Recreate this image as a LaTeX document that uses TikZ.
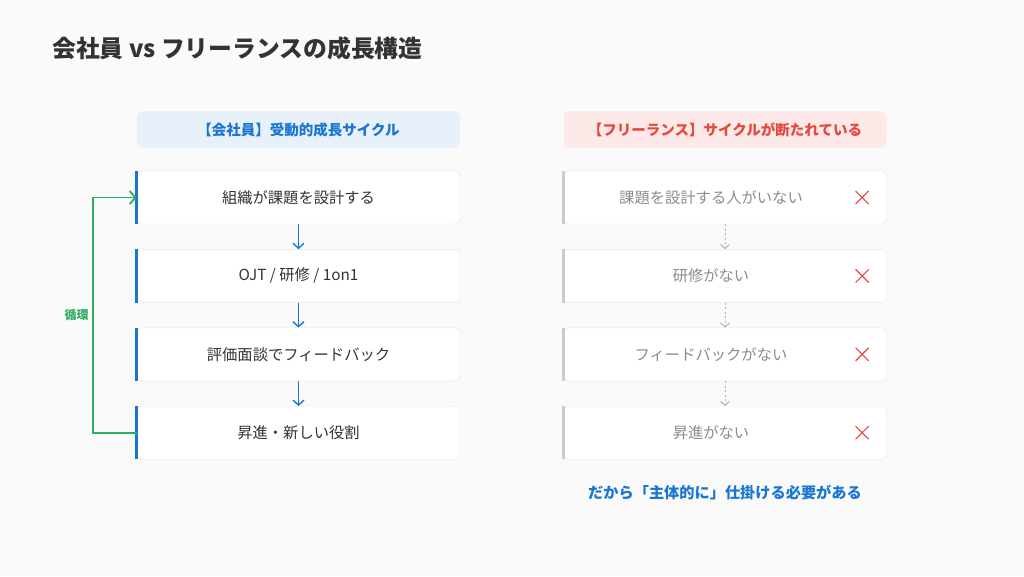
\documentclass[tikz,border=0pt]{standalone}
\usepackage{fontspec}
\setmainfont{Noto Sans CJK JP}
\usetikzlibrary{positioning,shapes.misc,arrows.meta}
\definecolor{bgc}{HTML}{FAFAFA}
\definecolor{kblue}{HTML}{1976D2}
\definecolor{kgreen}{HTML}{2EAE62}
\definecolor{fred}{HTML}{E5483D}
\definecolor{darkt}{HTML}{333333}
\definecolor{grayt}{HTML}{8C8C8C}
\definecolor{lineg}{HTML}{E6E6E6}
\newcommand{\pxfont}[1]{\fontsize{#1}{#1}\selectfont}
\tikzset{kbox/.style={rectangle,draw=lineg,fill=white,rounded corners=5pt,minimum width=323pt,minimum height=53pt,text=darkt,font=\pxfont{15.3pt}},
	 fbox/.style={kbox,text=grayt},
	 khead/.style={rectangle,fill=kblue!10,rounded corners=6pt,minimum width=323pt,minimum height=37pt,text=kblue,font=\pxfont{14.5pt}\bfseries},
	 fhead/.style={khead,fill=fred!12,text=fred},
	 kbar/.style={draw=kblue,line width=3pt},
	 fbar/.style={draw=black!20,line width=3pt},
	 karrow/.style={-{Straight Barb[length=5pt,width=11pt]},draw=kblue,line width=1.4pt},
	 farrow/.style={-{Straight Barb[length=4pt,width=9pt]},draw=black!30,line width=1pt,dash pattern=on 2pt off 2.5pt},
	 xmark/.style={cross out,draw=fred,line width=1.1pt,minimum size=12pt,inner sep=0pt},
	 node distance = 25pt
	 }

\begin{document}
\begin{tikzpicture}[x=1pt,y=-1pt]
	\fill[bgc] (0,0) rectangle (1024,576);
	\useasboundingbox (0,0) rectangle (1024,576);
	\node[anchor=west,text=darkt,font=\pxfont{23.8pt}\bfseries,inner sep=0pt] (ttl) at (52,48) {会社員 vs フリーランスの成長構造};
	% left column
	\node[khead] (h1) at (298.5,129.5) {【会社員】受動的成長サイクル};
	\node[kbox] (c1) at (298.5,197.5) {組織が課題を設計する};
	\node[kbox] (c2) [below= of c1] {OJT / 研修 / 1on1};
	\node[kbox] (c3) [below= of c2] {評価面談でフィードバック};
	\node[kbox] (c4) [below= of c3] {昇進・新しい役割};
	\foreach \n in {c1,c2,c3,c4} \draw[kbar] (\n.north west) -- (\n.south west);
	\foreach \a/\b in {c1/c2,c2/c3,c3/c4} \draw[karrow] (\a) -- (\b);
	\draw[-{Straight Barb[length=6pt,width=13pt]},draw=kgreen,line width=1.8pt] (c4.west) -- ++(-44,0) |- (c1.west)
	  node (cyc) [pos=0.25,left,text=kgreen,font=\pxfont{12pt}\bfseries] {循環};
	% right column
	\node[fhead] (h2) at (725,129.5) {【フリーランス】サイクルが断たれている};
	\node[fbox] (f1) at (725,197.5) [label={[xshift=-14pt,text=grayt,font=\pxfont{15.3pt}]center:課題を設計する人がいない}] {};
	\node[fbox] (f2) [below= of f1] [label={[xshift=-14pt,text=grayt,font=\pxfont{15.3pt}]center:研修がない}] {};
	\node[fbox] (f3) [below= of f2] [label={[xshift=-14pt,text=grayt,font=\pxfont{15.3pt}]center:フィードバックがない}] {};
	\node[fbox] (f4) [below= of f3] [label={[xshift=-14pt,text=grayt,font=\pxfont{15.3pt}]center:昇進がない}] {};
	\foreach \n in {f1,f2,f3,f4} {
	  \draw[fbar] (\n.north west) -- (\n.south west);
	  \node[xmark] (x\n) [left=18pt of \n.east] {};
	}
	\foreach \a/\b in {f1/f2,f2/f3,f3/f4} \draw[farrow] (\a) -- (\b);
	\node[text=kblue,font=\pxfont{15.2pt}\bfseries,inner sep=0pt] (note) [below=26pt of f4] {だから「主体的に」仕掛ける必要がある};
\end{tikzpicture}
\end{document}
